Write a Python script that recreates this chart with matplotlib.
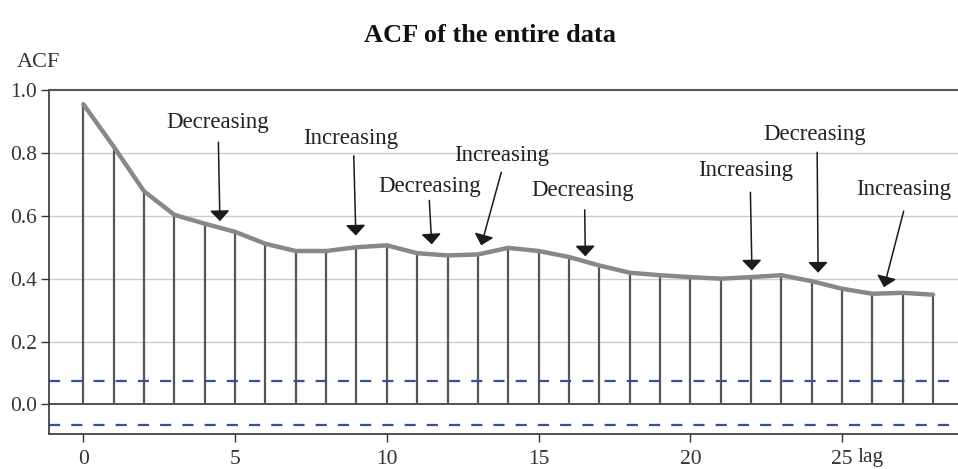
import matplotlib
matplotlib.use("Agg")
import matplotlib.pyplot as plt
import numpy as np

plt.rcParams['font.family'] = ['Liberation Serif', 'DejaVu Serif']

lags = list(range(29))
acf = [0.955, 0.820, 0.678, 0.603, 0.575, 0.549, 0.511, 0.488, 0.488, 0.500,
       0.506, 0.481, 0.474, 0.477, 0.498, 0.488, 0.469, 0.442, 0.419, 0.411,
       0.405, 0.400, 0.405, 0.411, 0.392, 0.368, 0.352, 0.355, 0.349]
conf_upper = 0.074
conf_lower = -0.065

ann_labels = ["Decreasing", "Increasing", "Decreasing", "Increasing",
              "Decreasing", "Increasing", "Decreasing", "Increasing"]
ann_text_xy = [(4.41, 0.897), (8.82, 0.845), (11.42, 0.693), (13.78, 0.791),
               (16.45, 0.680), (21.83, 0.744), (24.11, 0.858), (27.02, 0.683)]
ann_start_xy = [(4.45, 0.834), (8.91, 0.791), (11.40, 0.649), (13.77, 0.738),
                (16.52, 0.619), (21.98, 0.675), (24.18, 0.802), (27.03, 0.615)]
ann_tip_xy = [(4.50, 0.583), (8.98, 0.537), (11.48, 0.509), (13.11, 0.506),
              (16.54, 0.471), (22.03, 0.426), (24.21, 0.419), (26.38, 0.373)]

xticks = [0, 5, 10, 15, 20, 25]
yticks = [0.0, 0.2, 0.4, 0.6, 0.8, 1.0]

fig = plt.figure(figsize=(9.58, 4.69), dpi=100)
ax = fig.add_axes([0.0515, 0.074, 0.9485, 0.734])
ax.set_xlim(-1.12, 28.82)
ax.set_ylim(-0.095, 1.0)

for y in [0.2, 0.4, 0.6, 0.8]:
    ax.axhline(y, color='#cccccc', lw=1.0, zorder=0)
ax.axhline(0, color='#444444', lw=1.3, zorder=2)

ax.vlines(lags, 0, acf, color='#555555', lw=1.6, zorder=3)
ax.plot(lags, acf, color='#888888', lw=3.2, zorder=4, solid_capstyle='round')

ax.axhline(conf_upper, color='#34519c', lw=1.6, ls=(0, (5, 5)), zorder=5)
ax.axhline(conf_lower, color='#34519c', lw=1.6, ls=(0, (5, 5)), zorder=5)

for lab, t, s, p in zip(ann_labels, ann_text_xy, ann_start_xy, ann_tip_xy):
    ax.text(t[0], t[1], lab, ha='center', va='center', fontsize=16.5,
            color='#222222', zorder=6)
    ax.annotate('', xy=p, xytext=s,
                arrowprops=dict(arrowstyle='-|>,head_length=0.32,head_width=0.3',
                                color='#1a1a1a', lw=1.1,
                                mutation_scale=20, shrinkA=0, shrinkB=0),
                zorder=6)

ax.spines['right'].set_visible(False)
ax.spines['top'].set_color('#555555')
ax.spines['top'].set_linewidth(1.5)
ax.spines['left'].set_color('#333333')
ax.spines['left'].set_linewidth(1.2)
ax.spines['bottom'].set_color('#333333')
ax.spines['bottom'].set_linewidth(1.2)

ax.set_xticks(xticks)
ax.set_xticklabels([str(v) for v in xticks])
ax.set_yticks(yticks)
ax.set_yticklabels([f"{v:.1f}" for v in yticks])
ax.tick_params(axis='both', direction='out', length=6, width=1.0,
               color='#333333', labelcolor='#333333', labelsize=15.5)
ax.tick_params(axis='x', pad=5)
ax.tick_params(axis='y', pad=3)

fig.text(0.5115, 0.925, "ACF of the entire data", ha='center', va='center',
         fontsize=19, fontweight='bold', color='#111111')
fig.text(0.018, 0.866, "ACF", ha='left', va='center', fontsize=16, color='#333333')
fig.text(858 / 958, 1 - 462 / 469, "lag", ha='left', va='baseline', fontsize=15.5,
         color='#333333')

fig.savefig("out.png", dpi=100)
